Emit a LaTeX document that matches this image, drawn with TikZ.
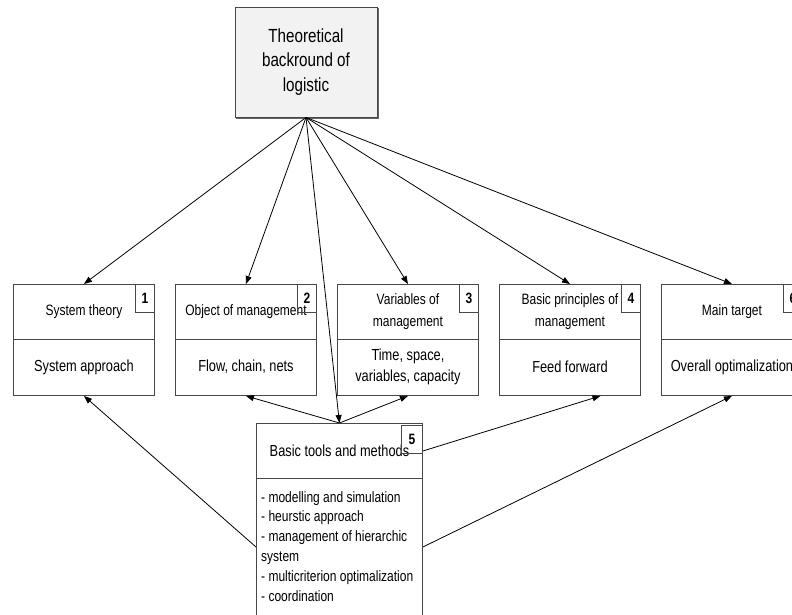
\documentclass[tikz,border=0pt]{standalone}
\usepackage{fontspec}
\setmainfont{Liberation Sans}[FakeStretch=0.8]
\usetikzlibrary{arrows.meta,calc}

\tikzset{
  frame/.style={draw=black!72, line width=0.9pt},
  topbox/.style={frame, fill=black!5, minimum width=142pt, minimum height=110pt,
    align=center, inner sep=0pt, font=\fontsize{19}{24.5}\selectfont},
  rowframe/.style={frame, minimum width=141pt, minimum height=111pt, inner sep=0pt},
  rowtop/.style={align=center, inner sep=0pt, font=\fontsize{15}{22}\selectfont},
  rowbot/.style={align=center, inner sep=0pt, font=\fontsize{16}{21}\selectfont},
  numbox/.style={frame, minimum width=19pt, minimum height=28pt, inner sep=0pt,
    font=\fontsize{15}{15}\selectfont\bfseries},
  listtext/.style={align=left, inner sep=0pt, font=\fontsize{15}{19.8}\selectfont},
  conn/.style={draw=black, line width=0.8pt, -{Triangle[length=8pt,width=6pt]}},
}

\newcommand\rowbox[5]{%
  \node[rowframe, anchor=north west] (#1) at (#2,284) {};
  \draw[frame] ($(#1.north west)+(0,55)$) -- ($(#1.north east)+(0,55)$);
  \node[rowtop] (#1t) at ($(#1.north)+(0,27.5)$) {#4};
  \node[rowbot] (#1b) at ($(#1.north)+(0,83)$) {#5};
  \node[numbox, anchor=north east] (#1n) at (#1.north east) {#3};
}

\begin{document}
\begin{tikzpicture}[x=1pt,y=-1pt]
\clip (0,0) rectangle (792,614);
\fill[white] (0,0) rectangle (792,614);

% top box with shadow
\node[topbox] (top) at (306,62) {Theoretical\\backround of\\logistic};
\draw[black!60, line width=1.6pt] ($(top.south west)+(1,1)$) -- ($(top.south east)+(1,1)$) -- ($(top.north east)+(1,1)$);

% row of boxes
\rowbox{b1}{13}{1}{System theory}{System approach}
\rowbox{b2}{175}{2}{Object of management}{Flow, chain, nets}
\rowbox{b3}{337}{3}{Variables of\\management}{Time, space,\\variables, capacity}
\rowbox{b4}{499}{4}{Basic principles of\\management}{Feed forward}
\rowbox{b6}{661}{6}{Main target}{Overall optimalization}

% box 5
\node[frame, anchor=north west, minimum width=166pt, minimum height=210pt, inner sep=0pt] (b5) at (256,423) {};
\draw[frame] ($(b5.north west)+(0,55)$) -- ($(b5.north east)+(0,55)$);
\node[rowbot] (b5t) at ($(b5.north)+(0,27.5)$) {Basic tools and methods};
\node[numbox, minimum width=21pt, anchor=north east] (b5n) at ($(b5.north east)+(0,2)$) {5};
\node[listtext, anchor=north west] (b5l) at ($(b5.north west)+(5,68)$) {- modelling and simulation\\- heurstic approach\\- management of hierarchic\\system\\- multicriterion optimalization\\- coordination};

% connector end points
\coordinate (s5a) at ($(b5.north west)+(0,124)$);
\coordinate (s5b) at ($(b5.north east)+(0,28)$);
\coordinate (s5c) at ($(b5.north east)+(0,124)$);
\coordinate (t4) at ($(b4.south)+(30.5,0)$);

% arrows from top
\draw[conn] (top.south) -- (b1.north);
\draw[conn] (top.south) -- (b2.north);
\draw[conn] (top.south) -- (b3.north);
\draw[conn] (top.south) -- (b4.north);
\draw[conn] (top.south) -- (b6.north);
\draw[conn] (top.south) -- (b5.north);

% arrows from box 5
\draw[conn] (b5.north) -- (b2.south);
\draw[conn] (b5.north) -- (b3.south);
\draw[conn] (s5a) -- (b1.south);
\draw[conn] (s5b) -- (t4);
\draw[conn] (s5c) -- (b6.south);
\end{tikzpicture}
\end{document}
